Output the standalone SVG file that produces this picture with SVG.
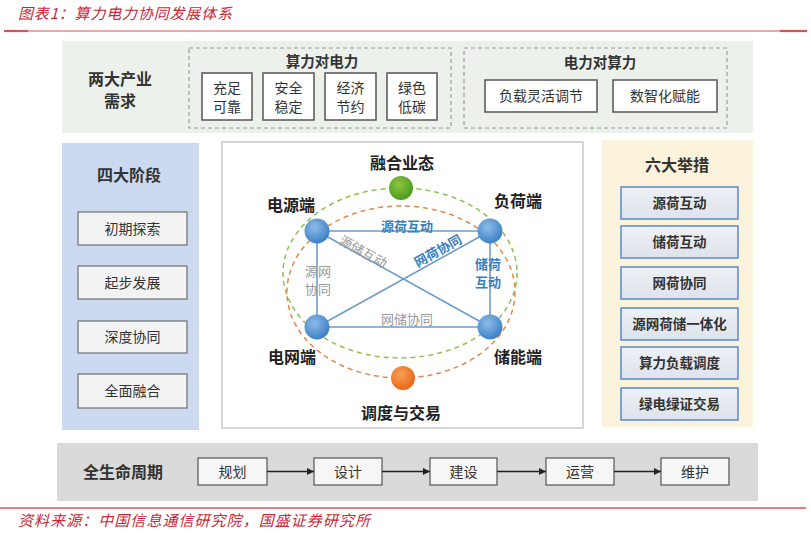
<svg xmlns="http://www.w3.org/2000/svg" width="811" height="533" viewBox="0 0 811 533">
<style>
text{font-family:"Noto Sans CJK SC","Noto Sans",sans-serif;fill:#333;text-anchor:middle}
.red{fill:#c8283a;font-style:italic;text-anchor:start;font-size:15px}
.h{font-weight:700;font-size:16px;fill:#333}
.sub{font-weight:700;font-size:14.5px;fill:#333}
.bt{font-size:14px;fill:#333}
.wbox{fill:#fff;stroke:#555;stroke-width:1.5}
.dash{fill:none;stroke:#9a9a9a;stroke-width:1.2;stroke-dasharray:4 3}
.lbox{fill:#f3f3f3;stroke:#707070;stroke-width:1.2}
.rbox{fill:url(#rg);stroke:#5b88cc;stroke-width:1.5}
.rt{font-size:13.5px;font-weight:700;fill:#333}
.gbox{fill:#f6f6f6;stroke:#555;stroke-width:1.2}
.edge{stroke:#6c9dc8;stroke-width:1.6;fill:none}
.nl{font-weight:700;font-size:16px;fill:#222}
.el{font-size:13px}
.eb{fill:#3a80bf;font-weight:700}
.eg{fill:#9a9a9a}
.arr{stroke:#222;stroke-width:1.3;fill:none;marker-end:url(#ah)}
</style>
<defs>
<radialGradient id="bn" cx="40%" cy="35%" r="65%">
<stop offset="0" stop-color="#8dbde8"/><stop offset="1" stop-color="#3d80c6"/>
</radialGradient>
<radialGradient id="gn" cx="40%" cy="35%" r="65%">
<stop offset="0" stop-color="#8cc63f"/><stop offset="1" stop-color="#4e9a1f"/>
</radialGradient>
<radialGradient id="on" cx="40%" cy="35%" r="65%">
<stop offset="0" stop-color="#f7a054"/><stop offset="1" stop-color="#e8681c"/>
</radialGradient>
<linearGradient id="rg" x1="0" y1="0" x2="0" y2="1">
<stop offset="0" stop-color="#eef1f5"/><stop offset="1" stop-color="#dde3ec"/>
</linearGradient>
<marker id="ah" viewBox="0 0 10 10" refX="10" refY="5" markerWidth="7" markerHeight="7" markerUnits="userSpaceOnUse" orient="auto">
<path d="M0,0 L10,5 L0,10 z" fill="#222"/>
</marker>
</defs>

<g id="header">
<text class="red" x="18" y="19" textLength="214" lengthAdjust="spacing">图表1：算力电力协同发展体系</text>
<line x1="4" y1="31" x2="807" y2="31" stroke="#d9535f" stroke-width="1.2"/>
<line x1="4" y1="31" x2="28" y2="31" stroke="#d9535f" stroke-width="2.2"/>
<line x1="780" y1="31" x2="807" y2="31" stroke="#d9535f" stroke-width="2.2"/>
</g>

<g id="demand">
<rect x="62" y="41" width="691" height="92" fill="#edf1eb"/>
<text class="h" x="120" y="85">两大产业</text>
<text class="h" x="120" y="107">需求</text>
<g id="compute-to-power">
<rect class="dash" x="189" y="48" width="262" height="80"/>
<text class="sub" x="322" y="67">算力对电力</text>
<rect class="wbox" x="202" y="73" width="50" height="47"/>
<text class="bt" x="227" y="93">充足</text><text class="bt" x="227" y="112">可靠</text>
<rect class="wbox" x="263" y="73" width="51" height="47"/>
<text class="bt" x="288.5" y="93">安全</text><text class="bt" x="288.5" y="112">稳定</text>
<rect class="wbox" x="325" y="73" width="51" height="47"/>
<text class="bt" x="350.5" y="93">经济</text><text class="bt" x="350.5" y="112">节约</text>
<rect class="wbox" x="387" y="73" width="50" height="47"/>
<text class="bt" x="412" y="93">绿色</text><text class="bt" x="412" y="112">低碳</text>
</g>
<g id="power-to-compute">
<rect class="dash" x="464" y="48" width="263" height="80"/>
<text class="sub" x="600" y="68">电力对算力</text>
<rect class="wbox" x="485" y="80" width="112" height="32"/>
<text class="bt" x="541" y="101">负载灵活调节</text>
<rect class="wbox" x="613" y="80" width="104" height="32"/>
<text class="bt" x="665" y="101">数智化赋能</text>
</g>
</g>

<g id="stages">
<rect x="62" y="143" width="137" height="287" fill="#cbdaf0"/>
<text class="h" x="129" y="181">四大阶段</text>
<rect class="lbox" x="78" y="212" width="109" height="33"/><text class="bt" x="132.5" y="233.5">初期探索</text>
<rect class="lbox" x="78" y="266" width="109" height="33"/><text class="bt" x="132.5" y="287.5">起步发展</text>
<rect class="lbox" x="78" y="321" width="109" height="32"/><text class="bt" x="132.5" y="342">深度协同</text>
<rect class="lbox" x="78" y="374" width="109" height="34"/><text class="bt" x="132.5" y="396">全面融合</text>
</g>

<g id="measures">
<rect x="602" y="140" width="151" height="287" fill="#fbf3dc"/>
<text class="h" x="677" y="171">六大举措</text>
<rect class="rbox" x="621" y="187" width="117" height="32"/><text class="rt" x="679.5" y="208">源荷互动</text>
<rect class="rbox" x="621" y="226" width="117" height="32"/><text class="rt" x="679.5" y="247">储荷互动</text>
<rect class="rbox" x="621" y="267" width="117" height="32"/><text class="rt" x="679.5" y="288">网荷协同</text>
<rect class="rbox" x="621" y="308" width="117" height="32"/><text class="rt" x="679.5" y="329">源网荷储一体化</text>
<rect class="rbox" x="621" y="347" width="117" height="32"/><text class="rt" x="679.5" y="368">算力负载调度</text>
<rect class="rbox" x="621" y="388" width="117" height="32"/><text class="rt" x="679.5" y="409">绿电绿证交易</text>
</g>

<g id="center-panel">
<rect x="222" y="142" width="361" height="286" fill="#fff" stroke="#c8c8c8" stroke-width="1.5"/>
<ellipse cx="400" cy="273" rx="117" ry="85" fill="none" stroke="#8cc152" stroke-width="1.5" stroke-dasharray="5 4"/>
<ellipse cx="401" cy="292" rx="114" ry="86" fill="none" stroke="#e4874a" stroke-width="1.5" stroke-dasharray="5 4"/>
</g>

<g id="connectors">
<line class="edge" x1="317" y1="231" x2="490" y2="231"/>
<line class="edge" x1="317" y1="231" x2="317" y2="327"/>
<line class="edge" x1="490" y1="231" x2="490" y2="327"/>
<line class="edge" x1="317" y1="327" x2="490" y2="327"/>
<line class="edge" x1="317" y1="231" x2="490" y2="327"/>
<line class="edge" x1="317" y1="327" x2="490" y2="231"/>
<text class="el eb" x="407" y="231">源荷互动</text>
<text class="el eg" transform="translate(363,252) rotate(29)" y="4.5">源储互动</text>
<text class="el eb" transform="translate(438,251) rotate(-29)" y="4.5">网荷协同</text>
<text class="el eb" x="488" y="269">储荷</text>
<text class="el eb" x="488" y="287">互动</text>
<text class="el eg" x="318" y="276">源网</text>
<text class="el eg" x="318" y="294">协同</text>
<text class="el eg" x="407" y="324">网储协同</text>
</g>

<g id="node-fusion">
<circle cx="401" cy="188" r="12" fill="url(#gn)"/>
<text class="nl" x="402" y="169">融合业态</text>
</g>
<g id="node-source">
<circle cx="317" cy="231" r="12.5" fill="url(#bn)"/>
<text class="nl" x="291" y="211">电源端</text>
</g>
<g id="node-load">
<circle cx="490" cy="231" r="12.5" fill="url(#bn)"/>
<text class="nl" x="518" y="207">负荷端</text>
</g>
<g id="node-grid">
<circle cx="317" cy="327" r="12.5" fill="url(#bn)"/>
<text class="nl" x="292" y="363">电网端</text>
</g>
<g id="node-storage">
<circle cx="490" cy="327" r="12.5" fill="url(#bn)"/>
<text class="nl" x="518" y="363">储能端</text>
</g>
<g id="node-dispatch">
<circle cx="403" cy="378" r="12" fill="url(#on)"/>
<text class="nl" x="401" y="419">调度与交易</text>
</g>

<g id="lifecycle">
<rect x="57" y="443" width="701" height="58" fill="#dadada"/>
<text class="h" x="123" y="478">全生命周期</text>
<rect class="gbox" x="198" y="458" width="69" height="27"/><text class="bt" x="232.5" y="476.5">规划</text>
<rect class="gbox" x="314" y="458" width="68" height="27"/><text class="bt" x="348" y="476.5">设计</text>
<rect class="gbox" x="430" y="458" width="67" height="27"/><text class="bt" x="463.5" y="476.5">建设</text>
<rect class="gbox" x="546" y="458" width="68" height="27"/><text class="bt" x="580" y="476.5">运营</text>
<rect class="gbox" x="661" y="458" width="68" height="27"/><text class="bt" x="695" y="476.5">维护</text>
<line class="arr" x1="267" y1="471.5" x2="314" y2="471.5"/>
<line class="arr" x1="382" y1="471.5" x2="430" y2="471.5"/>
<line class="arr" x1="497" y1="471.5" x2="546" y2="471.5"/>
<line class="arr" x1="614" y1="471.5" x2="661" y2="471.5"/>
</g>

<g id="footer">
<line x1="0" y1="508" x2="806" y2="508" stroke="#d9535f" stroke-width="1.5"/>
<text class="red" x="18" y="526" textLength="352" lengthAdjust="spacing">资料来源：中国信息通信研究院，国盛证券研究所</text>
</g>
</svg>
